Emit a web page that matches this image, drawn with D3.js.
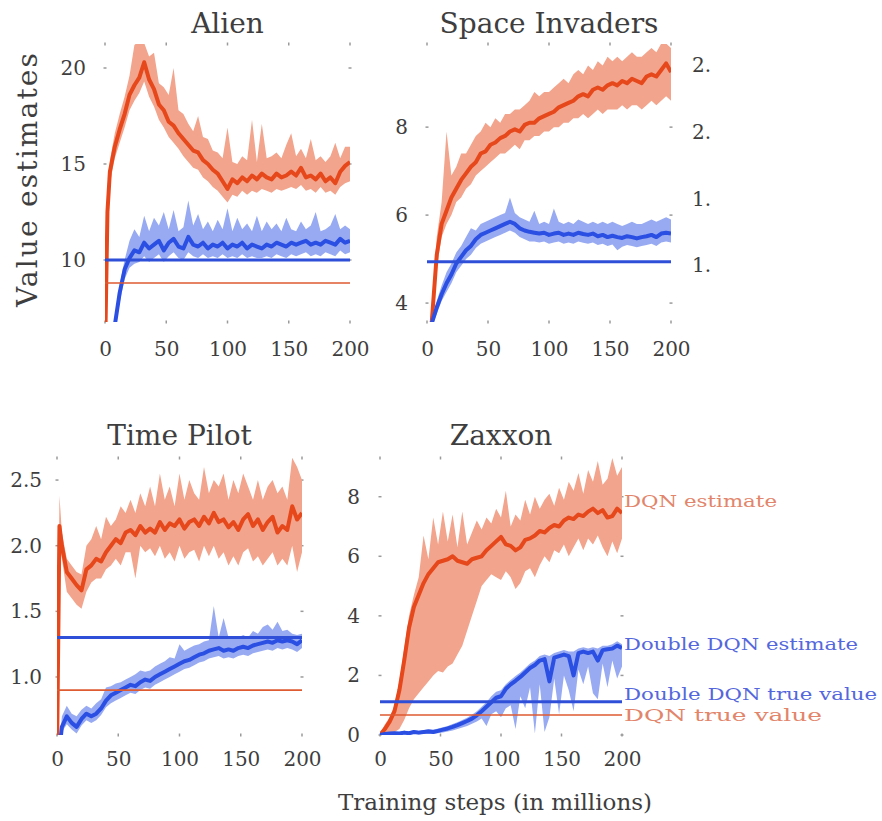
<!DOCTYPE html>
<html>
<head>
<meta charset="utf-8">
<script src="https://cdn.jsdelivr.net/npm/d3@7"></script>
<style>
  body { margin: 0; background: #fff; }
  svg text { font-family: "DejaVu Serif", serif; fill: #3e3e3e; }
</style>
</head>
<body>
<script>
// training steps (millions)
const steps = [0, 2, 4, 8, 12, 16, 20, 24, 28, 32, 36, 40, 44, 48, 52, 56, 60, 64, 68, 72, 76, 80, 84, 88, 92, 96, 100,
  104, 108, 112, 116, 120, 124, 128, 132, 136, 140, 144, 148, 152, 156, 160, 164, 168, 172, 176, 180, 184, 188, 192, 196, 200];
const xTicks = [0, 50, 100, 150, 200];

// Alien
const alienYTicks = [10, 15, 20];
const alienDqn = [5.0, 12.5, 14.6, 15.9, 16.8, 17.6, 18.6, 19.1, 19.5, 20.3, 19.4, 18.9, 18.1, 17.8, 17.2, 17.0, 16.6, 16.3, 16.0, 15.7, 15.6, 15.2, 15.0, 14.7, 14.5, 14.1, 13.7, 14.2, 14.0, 14.3, 14.1, 14.4, 14.2, 14.5, 14.3, 14.2, 14.5, 14.3, 14.4, 14.6, 14.4, 14.8, 14.3, 14.4, 14.2, 14.5, 14.1, 14.3, 14.0, 14.6, 14.9, 15.1];
const alienDqnHi = [5.5, 13.2, 15.2, 16.6, 17.6, 18.5, 19.6, 21.2, 21.4, 21.3, 20.6, 20.8, 19.2, 19.0, 18.6, 20.0, 17.8, 17.6, 17.1, 16.7, 17.5, 16.4, 16.3, 15.7, 15.6, 15.3, 16.9, 15.1, 15.0, 15.4, 15.2, 17.3, 15.1, 17.1, 15.3, 15.4, 15.6, 15.3, 16.0, 16.6, 15.4, 15.8, 15.3, 16.3, 15.2, 15.4, 15.1, 15.4, 16.1, 15.3, 15.9, 15.9];
const alienDqnLo = [4.5, 11.8, 14.0, 15.3, 16.1, 16.9, 17.8, 18.3, 18.7, 19.3, 18.5, 18.0, 17.3, 16.9, 16.4, 16.1, 15.8, 15.4, 15.1, 14.8, 14.7, 14.3, 14.1, 13.8, 13.6, 13.3, 13.0, 13.4, 13.3, 13.6, 13.4, 13.6, 13.5, 13.7, 13.6, 13.5, 13.7, 13.6, 13.7, 13.8, 13.7, 13.9, 13.6, 13.7, 13.5, 13.8, 13.5, 13.6, 13.4, 13.8, 14.0, 14.1];
const alienDouble = [5.0, 5.2, 5.5, 6.6, 8.3, 9.5, 10.1, 10.5, 10.4, 10.9, 10.6, 10.8, 11.0, 10.5, 10.9, 11.1, 10.7, 10.6, 11.2, 10.8, 10.7, 10.9, 10.6, 10.8, 10.7, 10.9, 10.6, 10.8, 10.7, 10.9, 10.6, 10.8, 10.7, 10.6, 10.8, 10.7, 10.9, 10.8, 10.7, 10.9, 10.8, 10.9, 11.0, 10.8, 10.9, 10.8, 11.0, 10.9, 10.8, 11.1, 10.9, 11.0];
const alienDoubleHi = [5.2, 5.4, 5.8, 7.0, 8.7, 10.0, 11.0, 11.6, 11.2, 12.3, 11.5, 12.2, 11.8, 12.5, 11.6, 12.6, 11.5, 11.7, 13.1, 11.8, 12.4, 11.6, 12.0, 11.5, 12.1, 11.6, 12.7, 11.5, 12.2, 11.6, 11.9, 11.5, 12.3, 11.5, 12.0, 11.6, 11.9, 11.5, 12.2, 11.6, 11.5, 12.0, 11.6, 11.8, 12.5, 11.5, 11.6, 11.8, 12.4, 11.6, 11.8, 11.6];
const alienDoubleLo = [4.8, 5.0, 5.2, 6.2, 7.8, 9.0, 9.6, 9.8, 9.9, 10.2, 9.9, 10.1, 10.3, 9.9, 10.2, 10.4, 10.1, 10.0, 10.4, 10.2, 10.1, 10.3, 10.1, 10.2, 10.1, 10.3, 10.1, 10.2, 10.1, 10.3, 10.1, 10.2, 10.1, 10.1, 10.2, 10.1, 10.3, 10.2, 10.1, 10.3, 10.2, 10.3, 10.4, 10.2, 10.3, 10.2, 10.4, 10.3, 10.2, 10.5, 10.3, 10.4];
const alienDqnTrue = 8.8;
const alienDoubleTrue = 10.0;

// Space Invaders
const invadersYTicks = [4, 6, 8];
const invadersDqn = [3.0, 3.2, 3.6, 5.1, 5.8, 6.1, 6.4, 6.6, 6.8, 6.95, 7.1, 7.2, 7.4, 7.45, 7.6, 7.65, 7.75, 7.8, 7.9, 7.95, 7.9, 8.05, 8.1, 8.1, 8.2, 8.25, 8.3, 8.35, 8.45, 8.5, 8.55, 8.6, 8.7, 8.75, 8.7, 8.85, 8.9, 8.85, 8.95, 9.0, 8.95, 9.05, 9.0, 9.1, 9.05, 9.0, 9.15, 9.2, 9.15, 9.3, 9.45, 9.25];
const invadersDqnHi = [3.2, 3.4, 3.9, 5.5, 6.3, 7.9, 6.9, 7.1, 7.4, 7.4, 7.6, 7.8, 7.9, 8.1, 8.0, 8.2, 8.1, 8.3, 8.3, 8.4, 8.4, 8.5, 8.6, 8.8, 8.7, 8.8, 8.8, 8.9, 9.0, 9.1, 9.0, 9.2, 9.3, 9.2, 9.4, 9.3, 9.5, 9.4, 9.6, 9.5, 9.6, 9.5, 9.6, 9.7, 9.6, 9.6, 9.7, 9.8, 9.7, 9.9, 9.9, 9.8];
const invadersDqnLo = [2.8, 3.0, 3.4, 4.8, 5.5, 5.8, 6.0, 6.3, 6.4, 6.6, 6.7, 6.9, 7.0, 7.1, 7.2, 7.3, 7.4, 7.4, 7.5, 7.6, 7.5, 7.7, 7.7, 7.8, 7.8, 7.9, 7.9, 8.0, 8.0, 8.1, 8.1, 8.2, 8.2, 8.3, 8.2, 8.3, 8.4, 8.3, 8.4, 8.4, 8.4, 8.5, 8.4, 8.5, 8.5, 8.4, 8.5, 8.6, 8.5, 8.6, 8.7, 8.6];
const invadersDouble = [3.0, 3.2, 3.55, 3.9, 4.2, 4.45, 4.65, 4.9, 5.05, 5.2, 5.3, 5.45, 5.55, 5.6, 5.65, 5.7, 5.75, 5.8, 5.85, 5.8, 5.7, 5.65, 5.62, 5.6, 5.58, 5.6, 5.55, 5.58, 5.6, 5.55, 5.58, 5.55, 5.6, 5.57, 5.55, 5.58, 5.52, 5.55, 5.5, 5.53, 5.5, 5.48, 5.52, 5.5, 5.47, 5.5, 5.52, 5.55, 5.5, 5.58, 5.6, 5.58];
const invadersDoubleHi = [3.1, 3.3, 3.65, 4.05, 4.4, 4.7, 4.9, 5.15, 5.3, 5.5, 5.7, 5.65, 5.8, 5.85, 5.9, 5.95, 6.0, 6.05, 6.4, 6.05, 5.95, 5.9, 5.85, 6.1, 5.8, 5.85, 5.8, 6.15, 5.85, 5.8, 5.85, 5.8, 5.9, 5.85, 5.8, 5.85, 5.8, 5.85, 5.8, 5.85, 5.8, 5.75, 5.8, 5.85, 5.8, 5.8, 5.85, 5.9, 5.85, 5.9, 5.95, 5.9];
const invadersDoubleLo = [2.9, 3.1, 3.45, 3.75, 4.05, 4.25, 4.45, 4.7, 4.85, 5.0, 5.1, 5.25, 5.35, 5.4, 5.45, 5.5, 5.55, 5.6, 5.65, 5.6, 5.5, 5.45, 5.4, 5.4, 5.38, 5.4, 5.35, 5.38, 5.4, 5.35, 5.38, 5.35, 5.4, 5.37, 5.35, 5.38, 5.32, 5.35, 5.3, 5.33, 5.2, 5.28, 5.32, 5.3, 5.27, 5.3, 5.32, 5.35, 5.3, 5.38, 5.4, 5.38];
const invadersDoubleTrue = 4.94;

// Time Pilot
const pilotYTicks = [1.0, 1.5, 2.0, 2.5];
const pilotDqn = [0.4, 2.15, 2.0, 1.8, 1.75, 1.7, 1.66, 1.82, 1.85, 1.9, 1.88, 1.95, 2.0, 2.05, 2.02, 2.1, 2.12, 2.08, 2.15, 2.1, 2.13, 2.1, 2.18, 2.12, 2.17, 2.15, 2.2, 2.13, 2.18, 2.2, 2.15, 2.22, 2.17, 2.25, 2.18, 2.2, 2.14, 2.18, 2.12, 2.2, 2.24, 2.15, 2.2, 2.12, 2.18, 2.22, 2.1, 2.15, 2.12, 2.3, 2.2, 2.25];
const pilotDqnHi = [0.5, 2.38, 2.1, 1.9, 1.85, 1.8, 1.78, 2.0, 2.05, 2.15, 2.05, 2.22, 2.15, 2.2, 2.3, 2.25, 2.35, 2.25, 2.4, 2.3, 2.45, 2.3, 2.55, 2.35, 2.45, 2.3, 2.55, 2.35, 2.5, 2.4, 2.35, 2.6, 2.4, 2.5, 2.45, 2.55, 2.35, 2.5, 2.4, 2.55, 2.45, 2.35, 2.5, 2.35, 2.45, 2.5, 2.4, 2.45, 2.35, 2.67, 2.6, 2.5];
const pilotDqnLo = [0.3, 2.0, 1.9, 1.65, 1.6, 1.55, 1.52, 1.65, 1.72, 1.75, 1.75, 1.82, 1.85, 1.9, 1.85, 1.95, 1.95, 1.75, 2.0, 1.95, 1.98, 1.92, 2.0, 1.9, 1.95, 1.88, 2.0, 1.9, 1.95, 1.97, 1.88, 2.0, 1.92, 2.0, 1.9, 1.95, 1.85, 1.92, 1.85, 1.95, 1.98, 1.88, 1.92, 1.85, 1.9, 1.95, 1.85, 1.9, 1.85, 2.0, 1.8, 1.95];
const pilotDouble = [0.3, 0.45, 0.62, 0.7, 0.65, 0.62, 0.68, 0.72, 0.7, 0.72, 0.76, 0.82, 0.86, 0.88, 0.9, 0.92, 0.94, 0.93, 0.96, 0.98, 0.97, 1.0, 1.02, 1.04, 1.06, 1.08, 1.1, 1.12, 1.13, 1.15, 1.17, 1.18, 1.2, 1.21, 1.22, 1.2, 1.21, 1.2, 1.22, 1.23, 1.22, 1.24, 1.25, 1.26, 1.27, 1.26, 1.28, 1.27, 1.28, 1.27, 1.25, 1.28];
const pilotDoubleHi = [0.35, 0.5, 0.7, 0.78, 0.72, 0.7, 0.75, 0.78, 0.76, 0.8, 0.83, 0.92, 0.93, 0.95, 0.96, 0.98, 1.0, 1.02, 1.05, 1.04, 1.05, 1.08, 1.1, 1.12, 1.15, 1.14, 1.25, 1.2, 1.22, 1.24, 1.25, 1.27, 1.28, 1.54, 1.3, 1.45, 1.3, 1.29, 1.3, 1.32, 1.3, 1.35, 1.33, 1.38, 1.4, 1.36, 1.42, 1.35, 1.36, 1.33, 1.32, 1.33];
const pilotDoubleLo = [0.25, 0.4, 0.58, 0.64, 0.6, 0.57, 0.63, 0.67, 0.65, 0.67, 0.71, 0.77, 0.8, 0.82, 0.84, 0.86, 0.88, 0.87, 0.9, 0.92, 0.91, 0.94, 0.96, 0.98, 1.0, 1.02, 1.04, 1.06, 1.07, 1.09, 1.11, 1.12, 1.14, 1.15, 1.16, 1.14, 1.15, 1.14, 1.16, 1.17, 1.16, 1.18, 1.19, 1.2, 1.21, 1.2, 1.22, 1.21, 1.22, 1.21, 1.19, 1.22];
const pilotDqnTrue = 0.9;
const pilotDoubleTrue = 1.3;

// Zaxxon
const zaxxonYTicks = [0, 2, 4, 6, 8];
const zaxxonDqn = [0, 0.1, 0.2, 0.45, 0.8, 1.5, 2.5, 3.6, 4.3, 4.7, 5.1, 5.4, 5.6, 5.8, 5.85, 5.9, 6.0, 5.85, 5.8, 5.75, 5.9, 5.95, 6.0, 6.2, 6.35, 6.5, 6.65, 6.4, 6.35, 6.2, 6.3, 6.55, 6.6, 6.7, 6.85, 6.8, 6.95, 7.05, 7.0, 7.2, 7.3, 7.25, 7.4, 7.35, 7.5, 7.6, 7.45, 7.55, 7.3, 7.35, 7.6, 7.45];
const zaxxonDqnHi = [0.05, 0.2, 0.35, 0.6, 1.0, 1.8, 2.9, 4.0, 4.7, 5.3, 6.7, 5.9, 7.3, 6.4, 7.5, 6.5, 7.4, 6.3, 7.5, 6.4, 6.8, 7.2, 6.9, 7.3, 7.1, 7.6, 7.3, 8.2, 7.0, 7.4, 7.2, 7.9, 7.4, 8.0, 7.6, 7.9, 8.1, 7.7, 8.3, 7.9, 8.5, 8.2, 8.8, 8.1, 8.9, 8.5, 9.2, 8.4, 8.6, 9.3, 8.7, 9.0];
const zaxxonDqnLo = [0, 0, 0, 0.05, 0.1, 0.2, 0.5, 0.9, 1.2, 1.4, 1.6, 1.8, 2.0, 2.15, 2.1, 2.3, 2.4, 2.7, 3.0, 3.5, 4.0, 4.5, 5.0, 5.2, 5.4, 5.3, 5.2, 5.5, 5.3, 4.9, 5.1, 5.5, 5.6, 5.3, 5.7, 6.0, 5.8, 6.2, 6.1, 6.4, 6.0, 6.3, 6.6, 6.2, 6.6, 6.4, 6.7, 6.3, 6.0, 6.5, 6.1, 6.6];
const zaxxonDouble = [0, 0.02, 0.03, 0.05, 0.06, 0.05, 0.08, 0.06, 0.1, 0.08, 0.1, 0.12, 0.1, 0.14, 0.18, 0.22, 0.27, 0.33, 0.4, 0.47, 0.55, 0.66, 0.8, 0.95, 1.1, 1.25, 1.3, 1.55, 1.7, 1.82, 1.95, 2.1, 2.25, 2.35, 2.5, 2.55, 1.8, 2.6, 2.65, 2.7, 2.65, 2.0, 2.75, 2.8, 2.75, 2.8, 2.5, 2.85, 2.88, 2.9, 3.0, 2.92];
const zaxxonDoubleHi = [0.05, 0.06, 0.08, 0.1, 0.12, 0.1, 0.14, 0.12, 0.16, 0.14, 0.16, 0.2, 0.18, 0.22, 0.26, 0.3, 0.37, 0.43, 0.5, 0.58, 0.68, 0.8, 0.95, 1.1, 1.3, 1.45, 1.5, 1.7, 1.85, 1.98, 2.1, 2.25, 2.4, 2.5, 2.65, 2.7, 2.65, 2.75, 2.8, 2.85, 2.8, 2.8, 2.9, 2.95, 2.9, 2.95, 2.9, 3.0, 3.0, 3.05, 3.15, 3.05];
const zaxxonDoubleLo = [0, 0, 0, 0, 0.01, 0, 0.02, 0, 0.04, 0.02, 0.04, 0.05, 0.04, 0.06, 0.08, 0.12, 0.15, 0.2, 0.25, 0.3, 0.38, 0.45, 0.55, 0.3, 0.7, 0.8, 0.6, 0.9, 1.0, 0.2, 1.3, 0.9, 1.6, 0.05, 1.7, 0.1, 0.6, 1.9, 0.7, 2.0, 1.5, 0.8, 2.2, 1.7, 2.3, 1.4, 1.2, 2.4, 1.6, 2.5, 1.9, 2.3];
const zaxxonDqnTrue = 0.67;
const zaxxonDoubleTrue = 1.12;

// labels at the right of Zaxxon (value = vertical anchor)
const legendLabels = ["DQN estimate", "Double DQN estimate", "Double DQN true value", "DQN true value"];
const legendAt = [7.85, 3.05, 1.38, 0.66];
const legendKind = ["dqn", "double", "double", "dqn"];

// cropped tick labels of the next (cut-off) panel
const croppedLabels = ["2.", "2.", "1.", "1."];
const croppedAt = [2.5, 2.0, 1.5, 1.0];

const W = 882, H = 821;
const red = "#e6471b", redBand = "#f2a48c", redTrue = "#de5a30";
const blue = "#2a4fe2", blueBand = "#97aaf2", blueTrue = "#2f4fd8";
const legendWidth = [153, 234, 253, 198];

const svg = d3.select('body').append('svg')
  .attr('width', W).attr('height', H)
  .style('background', '#fff');

const panels = [
  { id: 'alien', title: 'Alien', left: 105, right: 350, top: 44, bottom: 322, yDomain: [6.77, 21.25],
    yTicks: alienYTicks, fmt: d3.format('d'), titleY: 33, xPad: 20, yPad: 19,
    dqn: [alienDqnLo, alienDqn, alienDqnHi], dbl: [alienDoubleLo, alienDouble, alienDoubleHi],
    dqnTrue: alienDqnTrue, dblTrue: alienDoubleTrue },
  { id: 'invaders', title: 'Space Invaders', left: 427, right: 671, top: 44, bottom: 322, yDomain: [3.57, 9.89],
    yTicks: invadersYTicks, fmt: d3.format('d'), titleY: 33, xPad: 20, yPad: 19,
    dqn: [invadersDqnLo, invadersDqn, invadersDqnHi], dbl: [invadersDoubleLo, invadersDouble, invadersDoubleHi],
    dqnTrue: null, dblTrue: invadersDoubleTrue },
  { id: 'pilot', title: 'Time Pilot', left: 57, right: 302, top: 458, bottom: 735, yDomain: [0.558, 2.668],
    yTicks: pilotYTicks, fmt: d3.format('.1f'), titleY: 445, xPad: 17, yPad: 15,
    dqn: [pilotDqnLo, pilotDqn, pilotDqnHi], dbl: [pilotDoubleLo, pilotDouble, pilotDoubleHi],
    dqnTrue: pilotDqnTrue, dblTrue: pilotDoubleTrue },
  { id: 'zaxxon', title: 'Zaxxon', left: 380, right: 622, top: 458, bottom: 735, yDomain: [0, 9.3],
    yTicks: zaxxonYTicks, fmt: d3.format('d'), titleY: 445, xPad: 17, yPad: 20,
    dqn: [zaxxonDqnLo, zaxxonDqn, zaxxonDqnHi], dbl: [zaxxonDoubleLo, zaxxonDouble, zaxxonDoubleHi],
    dqnTrue: zaxxonDqnTrue, dblTrue: zaxxonDoubleTrue }
];

const defs = svg.append('defs');
const scales = {};

panels.forEach(p => {
  const x = d3.scaleLinear().domain([0, 200]).range([p.left, p.right]);
  const y = d3.scaleLinear().domain(p.yDomain).range([p.bottom, p.top]);
  scales[p.id] = { x, y };
  const g = svg.append('g').attr('class', 'panel-' + p.id);

  // title
  g.append('text')
    .attr('x', (p.left + p.right) / 2)
    .attr('y', p.titleY)
    .attr('text-anchor', 'middle')
    .style('font-size', '28px')
    .text(p.title);

  // tiny tick marks on all four sides
  const tickCol = '#9a9a9a';
  xTicks.forEach(t => {
    [p.top, p.bottom].forEach(yy => {
      g.append('line').attr('x1', x(t)).attr('x2', x(t)).attr('y1', yy - 1.5).attr('y2', yy + 1.5)
        .attr('stroke', tickCol).attr('stroke-width', 1.5);
    });
  });
  p.yTicks.forEach(t => {
    [p.left, p.right].forEach(xx => {
      g.append('line').attr('x1', xx - 1.5).attr('x2', xx + 1.5).attr('y1', y(t)).attr('y2', y(t))
        .attr('stroke', tickCol).attr('stroke-width', 1.5);
    });
  });

  // axis labels
  const xa = g.append('g')
    .attr('transform', `translate(0,${p.bottom})`)
    .call(d3.axisBottom(x).tickValues(xTicks).tickSize(0).tickPadding(p.xPad))
    .style('font-size', '20px')
    .style('color', '#3e3e3e');
  xa.select('.domain').remove();

  const ya = g.append('g')
    .attr('transform', `translate(${p.left},0)`)
    .call(d3.axisLeft(y).tickValues(p.yTicks).tickSize(0).tickPadding(p.yPad).tickFormat(p.fmt))
    .style('font-size', '20px')
    .style('color', '#3e3e3e');
  ya.select('.domain').remove();

  // plot area
  defs.append('clipPath').attr('id', 'clip-' + p.id)
    .append('rect')
    .attr('x', p.left).attr('y', p.top)
    .attr('width', p.right - p.left).attr('height', p.bottom - p.top);
  const plot = g.append('g').attr('clip-path', `url(#clip-${p.id})`);

  const rows = s => steps.map((t, i) => ({ t, lo: s[0][i], v: s[1][i], hi: s[2][i] }));
  const area = d3.area().x(d => x(d.t)).y0(d => y(d.lo)).y1(d => y(d.hi))
    .defined(d => d.lo != null && d.hi != null);
  const line = d3.line().x(d => x(d.t)).y(d => y(d.v)).defined(d => d.v != null);

  plot.append('path').datum(rows(p.dqn)).attr('d', area).attr('fill', redBand);
  plot.append('path').datum(rows(p.dqn)).attr('d', line)
    .attr('fill', 'none').attr('stroke', red).attr('stroke-width', 4).attr('stroke-linejoin', 'round');
  plot.append('path').datum(rows(p.dbl)).attr('d', area).attr('fill', blueBand);
  plot.append('path').datum(rows(p.dbl)).attr('d', line)
    .attr('fill', 'none').attr('stroke', blue).attr('stroke-width', 4).attr('stroke-linejoin', 'round');

  // true values
  if (p.dblTrue != null) {
    g.append('line').attr('x1', x(0)).attr('x2', x(200)).attr('y1', y(p.dblTrue)).attr('y2', y(p.dblTrue))
      .attr('stroke', blueTrue).attr('stroke-width', 3);
  }
  if (p.dqnTrue != null) {
    g.append('line').attr('x1', x(0)).attr('x2', x(200)).attr('y1', y(p.dqnTrue)).attr('y2', y(p.dqnTrue))
      .attr('stroke', redTrue).attr('stroke-width', 1.6);
  }
});

// right-hand labels of Zaxxon
const zx = scales.zaxxon;
svg.append('g').selectAll('text')
  .data(legendLabels)
  .join('text')
  .attr('x', zx.x(200) + 2)
  .attr('y', (d, i) => zx.y(legendAt[i]))
  .attr('dy', '0.36em')
  .attr('textLength', (d, i) => legendWidth[i])
  .attr('lengthAdjust', 'spacingAndGlyphs')
  .style('font-size', '17px')
  .style('fill', (d, i) => legendKind[i] === 'dqn' ? '#e2856b' : '#5567dc')
  .text(d => d);

// y label
svg.append('text')
  .attr('transform', 'translate(37,180) rotate(-90)')
  .attr('text-anchor', 'middle')
  .attr('textLength', 254)
  .attr('lengthAdjust', 'spacing')
  .style('font-size', '28px')
  .text('Value estimates');

// x label
svg.append('text')
  .attr('x', 495)
  .attr('y', 810)
  .attr('text-anchor', 'middle')
  .style('font-size', '23px')
  .text('Training steps (in millions)');

// tick labels of the cropped panel at the right edge
const cy = d3.scaleLinear().domain([1.0, 2.5]).range([265, 65]);
svg.append('g').selectAll('text')
  .data(croppedLabels)
  .join('text')
  .attr('x', 692)
  .attr('y', (d, i) => cy(croppedAt[i]))
  .attr('dy', '0.36em')
  .style('font-size', '20px')
  .text(d => d);
</script>
</body>
</html>
